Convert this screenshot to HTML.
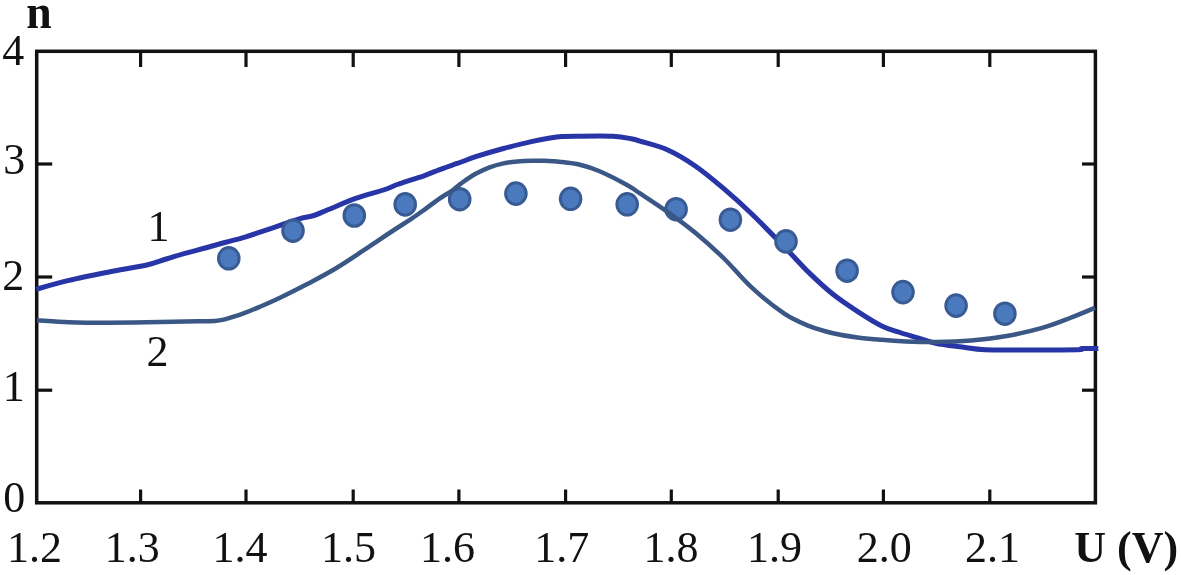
<!DOCTYPE html>
<html><head><meta charset="utf-8"><title>n vs U (V)</title>
<style>
html,body{margin:0;padding:0;background:#fff;}
svg{display:block;}
text{font-family:"Liberation Serif","Times New Roman",serif;font-size:44px;fill:#111;}
.b{font-weight:bold;}
</style></head><body>
<svg width="1181" height="575" viewBox="0 0 1181 575">
<rect width="1181" height="575" fill="#fff"/>
<rect x="36.7" y="51.3" width="1058.7" height="451.5" fill="none" stroke="#111" stroke-width="3.5"/>
<g stroke="#111" stroke-width="3.2">
<line x1="140.6" y1="51" x2="140.6" y2="67"/><line x1="140.6" y1="503" x2="140.6" y2="489.5"/>
<line x1="246" y1="51" x2="246" y2="67"/><line x1="246" y1="503" x2="246" y2="489.5"/>
<line x1="353.2" y1="51" x2="353.2" y2="67"/><line x1="353.2" y1="503" x2="353.2" y2="489.5"/>
<line x1="458.9" y1="51" x2="458.9" y2="67"/><line x1="458.9" y1="503" x2="458.9" y2="489.5"/>
<line x1="565.6" y1="51" x2="565.6" y2="67"/><line x1="565.6" y1="503" x2="565.6" y2="489.5"/>
<line x1="671.3" y1="51" x2="671.3" y2="67"/><line x1="671.3" y1="503" x2="671.3" y2="489.5"/>
<line x1="778.2" y1="51" x2="778.2" y2="67"/><line x1="778.2" y1="503" x2="778.2" y2="489.5"/>
<line x1="883.4" y1="51" x2="883.4" y2="67"/><line x1="883.4" y1="503" x2="883.4" y2="489.5"/>
<line x1="989.8" y1="51" x2="989.8" y2="67"/><line x1="989.8" y1="503" x2="989.8" y2="489.5"/>
<line x1="36" y1="164" x2="52.2" y2="164"/><line x1="1096" y1="164" x2="1082" y2="164"/>
<line x1="36" y1="277" x2="52.2" y2="277"/><line x1="1096" y1="277" x2="1082" y2="277"/>
<line x1="36" y1="390.2" x2="52.2" y2="390.2"/><line x1="1096" y1="390.2" x2="1082" y2="390.2"/>
</g>
<path d="M36.3,289.2 C41.7,287.7 57.0,283.2 68.9,280.4 C80.8,277.6 94.9,274.8 107.9,272.2 C120.9,269.6 137.1,267.2 146.8,265.0 C156.5,262.8 159.8,261.0 166.3,259.0 C172.8,257.0 179.3,255.0 185.8,253.2 C192.3,251.4 198.8,249.8 205.3,248.0 C211.8,246.2 218.2,244.3 224.7,242.5 C231.2,240.7 238.3,239.0 244.2,237.3 C250.1,235.6 254.0,234.2 260.0,232.2 C266.0,230.2 273.3,227.7 280.0,225.4 C286.7,223.1 294.4,220.2 300.0,218.6 C305.6,216.9 309.3,217.0 313.9,215.5 C318.5,214.0 320.8,212.7 327.8,209.8 C334.8,207.0 346.4,201.7 355.7,198.4 C365.0,195.1 376.6,192.3 383.5,190.0 C390.4,187.7 392.8,186.2 397.4,184.5 C402.0,182.8 406.7,181.4 411.3,179.9 C415.9,178.4 420.6,177.0 425.2,175.3 C429.8,173.6 434.5,171.6 439.1,169.8 C443.7,168.1 449.5,166.0 453.0,164.8 C456.5,163.6 456.2,163.8 460.0,162.5 C463.8,161.2 468.4,159.0 475.7,156.7 C482.9,154.4 494.2,151.0 503.5,148.5 C512.8,146.0 523.5,143.3 531.3,141.6 C539.0,139.8 544.9,138.8 550.0,138.0 C555.1,137.2 557.8,136.8 562.0,136.5 C566.2,136.2 566.5,136.2 575.0,136.2 C583.5,136.1 603.4,135.7 613.0,136.2 C622.6,136.7 628.0,138.2 632.5,139.0 C637.0,139.8 634.1,139.3 640.0,141.1 C645.9,142.9 658.5,145.8 667.8,150.0 C677.1,154.2 686.3,159.8 695.6,166.2 C704.9,172.6 714.2,180.5 723.5,188.4 C732.8,196.3 741.2,203.8 751.3,213.5 C761.4,223.2 774.7,237.0 784.3,246.8 C793.9,256.6 800.6,264.5 808.7,272.4 C816.8,280.3 824.9,287.8 833.0,294.3 C841.1,300.8 849.3,306.0 857.4,311.3 C865.5,316.6 874.6,322.4 881.7,325.9 C888.8,329.4 894.0,330.5 900.0,332.5 C906.0,334.5 911.9,336.0 917.8,337.8 C923.7,339.6 928.2,341.7 935.6,343.2 C943.0,344.7 953.9,345.9 962.2,347.0 C970.5,348.1 974.0,349.2 985.3,349.7 C996.6,350.2 1014.6,349.9 1030.0,349.9 C1045.4,349.9 1069.1,349.9 1077.8,349.7 C1086.5,349.5 1078.6,348.7 1082.0,348.5 C1085.4,348.3 1095.6,348.5 1098.3,348.5" fill="none" stroke="#2835a6" stroke-width="5" stroke-linecap="butt" stroke-linejoin="round"/>
<g fill="#4a79bd" stroke="#395b94" stroke-width="3">
<ellipse cx="228.8" cy="258.3" rx="10.3" ry="10.8"/>
<ellipse cx="293" cy="230.7" rx="10.3" ry="10.8"/>
<ellipse cx="354.3" cy="215.5" rx="10.3" ry="10.8"/>
<ellipse cx="405.2" cy="204.4" rx="10.3" ry="10.8"/>
<ellipse cx="459.7" cy="199.2" rx="10.3" ry="10.8"/>
<ellipse cx="515.9" cy="193.6" rx="10.3" ry="10.8"/>
<ellipse cx="570.6" cy="198.8" rx="10.3" ry="10.8"/>
<ellipse cx="627.2" cy="204.3" rx="10.3" ry="10.8"/>
<ellipse cx="676.1" cy="209.2" rx="10.3" ry="10.8"/>
<ellipse cx="730.4" cy="219.7" rx="10.3" ry="10.8"/>
<ellipse cx="786" cy="241.4" rx="10.3" ry="10.8"/>
<ellipse cx="847.1" cy="270.7" rx="10.3" ry="10.8"/>
<ellipse cx="903" cy="292.1" rx="10.3" ry="10.8"/>
<ellipse cx="956.1" cy="305.6" rx="10.3" ry="10.8"/>
<ellipse cx="1004.9" cy="313.7" rx="10.3" ry="10.8"/>
</g>
<path d="M37.0,320.2 C42.3,320.5 57.1,321.8 68.9,322.2 C80.7,322.6 94.9,322.7 107.9,322.7 C120.9,322.7 133.8,322.5 146.8,322.3 C159.8,322.1 174.4,321.6 185.8,321.4 C197.2,321.2 208.5,321.2 215.0,320.9 C221.5,320.5 219.8,320.6 224.7,319.3 C229.6,318.0 238.3,315.2 244.2,313.1 C250.1,311.0 254.0,309.3 260.0,306.7 C266.0,304.1 272.0,301.5 280.0,297.7 C288.0,293.9 298.5,288.7 307.8,283.8 C317.1,278.9 326.3,274.1 335.6,268.5 C344.9,262.9 353.8,256.8 363.5,250.4 C373.2,244.0 386.0,235.2 394.0,230.0 C402.0,224.8 406.1,222.4 411.3,218.9 C416.5,215.4 420.6,212.4 425.2,209.1 C429.8,205.8 434.5,202.1 439.1,198.9 C443.7,195.7 449.2,192.7 453.0,190.0 C456.8,187.3 457.9,185.7 461.7,183.0 C465.5,180.3 471.0,176.4 475.7,173.8 C480.4,171.2 485.0,169.0 489.6,167.3 C494.2,165.6 498.9,164.4 503.5,163.4 C508.1,162.4 512.8,161.9 517.4,161.5 C522.0,161.1 526.7,160.9 531.3,160.8 C535.9,160.7 540.4,160.7 545.0,160.8 C549.6,161.0 553.3,161.0 559.1,161.7 C564.9,162.4 573.4,163.2 580.0,164.8 C586.6,166.4 591.2,167.7 599.0,171.0 C606.8,174.3 620.2,181.2 627.0,184.9 C633.8,188.6 633.2,188.9 640.0,193.4 C646.8,197.9 658.5,205.5 667.8,212.1 C677.1,218.7 686.3,225.3 695.6,233.0 C704.9,240.7 714.2,249.0 723.5,258.0 C732.8,267.0 741.2,277.9 751.3,287.2 C761.4,296.5 774.7,307.2 784.3,313.7 C793.9,320.1 800.6,322.6 808.7,325.9 C816.8,329.1 824.9,331.3 833.0,333.2 C841.1,335.1 849.3,336.3 857.4,337.4 C865.5,338.5 873.6,339.1 881.7,339.8 C889.8,340.5 897.1,341.0 906.1,341.4 C915.1,341.8 924.8,342.2 935.6,342.0 C946.4,341.8 959.1,341.4 971.0,340.4 C982.9,339.4 994.8,338.1 1006.7,336.0 C1018.6,333.9 1031.7,330.9 1042.2,327.9 C1052.8,324.9 1061.2,321.4 1070.0,318.0 C1078.8,314.6 1090.8,309.5 1095.0,307.8" fill="none" stroke="#3b5786" stroke-width="4.5" stroke-linecap="butt" stroke-linejoin="round"/>
<text x="2.3" y="64.7">4</text>
<text x="3.2" y="173.5">3</text>
<text x="2.2" y="289.6">2</text>
<text x="2.8" y="401">1</text>
<text x="3.2" y="512">0</text>
<text x="7.1" y="562">1.2</text>
<text x="104.7" y="562">1.3</text>
<text x="212.4" y="562">1.4</text>
<text x="321.1" y="562">1.5</text>
<text x="420.0" y="562">1.6</text>
<text x="534.3" y="562">1.7</text>
<text x="643.5" y="562">1.8</text>
<text x="747.1" y="562">1.9</text>
<text x="856.7" y="562">2.0</text>
<text x="964.9" y="562">2.1</text>
<text x="147.6" y="240.7">1</text>
<text x="146.5" y="365.7">2</text>
<text class="b" transform="translate(26.3,27.8) scale(1.04,1.1)" x="0" y="0">n</text>
<text class="b" x="1074.3" y="561.6">U (V)</text>
</svg>
</body></html>
